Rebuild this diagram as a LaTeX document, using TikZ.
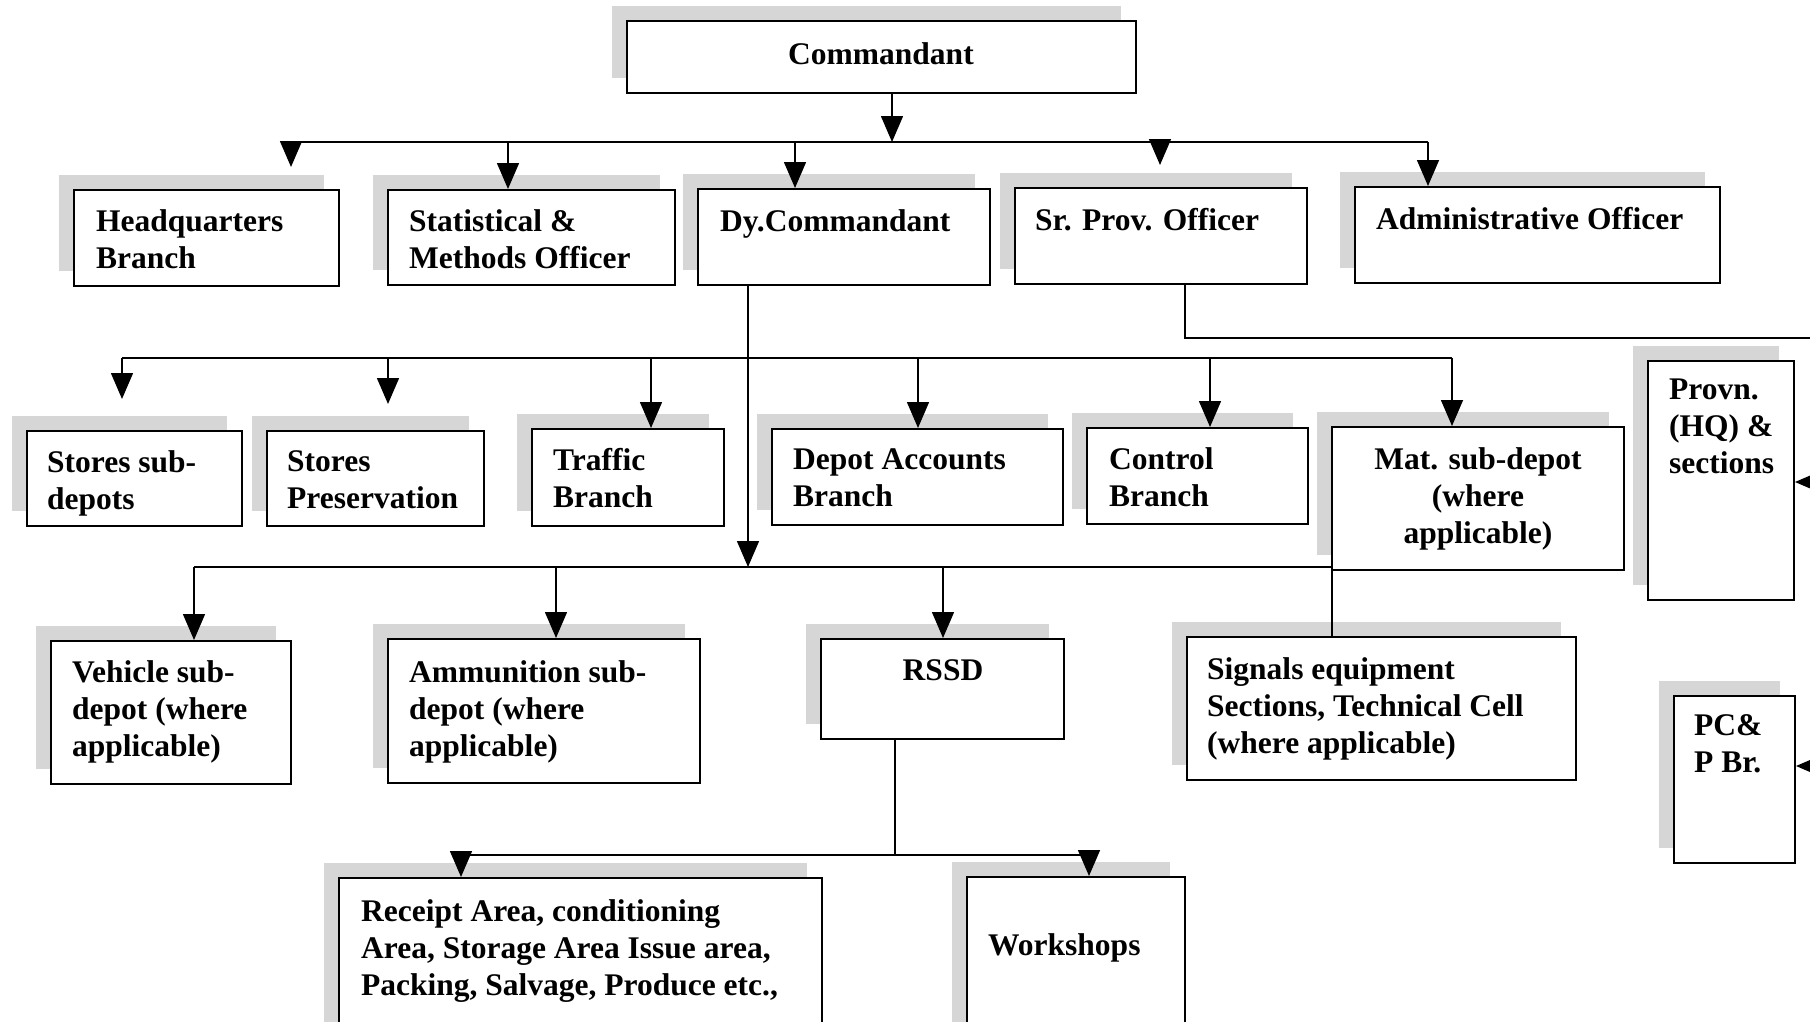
\documentclass[tikz,border=0pt]{standalone}
\usepackage{fontspec}
\setmainfont{Liberation Serif}
\usetikzlibrary{arrows.meta,shadows}
\begin{document}
\begin{tikzpicture}[x=1pt,y=-1pt,
  box/.style={draw, line width=2pt, fill=white, inner sep=0pt,
    general shadow={fill=black!16, shadow xshift=-15pt, shadow yshift=15pt}},
  txt/.style={font=\fontsize{31.5}{37}\selectfont\bfseries, inner sep=0pt, align=left, anchor=north west},
  ctxt/.style={txt, align=center, anchor=north},
  conn/.style={line width=1.5pt},
  bus/.style={line width=2.5pt},
  arr/.style={line width=1.5pt, -{Triangle[length=26pt,width=22pt]}}]
\clip (0,0) rectangle (1810,1021);
\useasboundingbox (0,0) rectangle (1810,1021);
\fill[white] (0,0) rectangle (1810,1021);

% boxes
\node[box, minimum width=509, minimum height=72] (cmd) at (881.5,57) {};
\node[box, minimum width=265, minimum height=96] (hq) at (206.5,238) {};
\node[box, minimum width=287, minimum height=95] (stat) at (531.5,237.5) {};
\node[box, minimum width=292, minimum height=96] (dy) at (844,237) {};
\node[box, minimum width=292, minimum height=96] (srp) at (1161,236) {};
\node[box, minimum width=365, minimum height=96] (adm) at (1537.5,235) {};
\node[box, minimum width=215, minimum height=95] (ssd) at (134.5,478.5) {};
\node[box, minimum width=217, minimum height=95] (spr) at (375.5,478.5) {};
\node[box, minimum width=192, minimum height=97] (trf) at (628,477.5) {};
\node[box, minimum width=291, minimum height=96] (dab) at (917.5,477) {};
\node[box, minimum width=221, minimum height=96] (ctl) at (1197.5,476) {};
\node[box, minimum width=292, minimum height=143] (mat) at (1478,498.5) {};
\node[box, minimum width=146, minimum height=239] (prv) at (1721,480.5) {};
\node[box, minimum width=121, minimum height=167] (pcp) at (1734.5,779.5) {};
\node[box, minimum width=240, minimum height=143] (veh) at (171,712.5) {};
\node[box, minimum width=312, minimum height=144] (amm) at (544,711) {};
\node[box, minimum width=243, minimum height=100] (rssd) at (942.5,689) {};
\node[box, minimum width=389, minimum height=143] (sig) at (1381.5,708.5) {};
\node[box, minimum width=483, minimum height=202] (rcp) at (580.5,979) {};
\node[box, minimum width=218, minimum height=203] (wks) at (1076,978.5) {};

% texts
\node[ctxt] (tcmd) at (881,42) {Commandant};
\node[txt] (thq) at (96,209) {Headquarters\\Branch};
\node[txt] (tstat) at (409,209) {Statistical \&\\Methods Officer};
\node[txt] (tdy) at (720,209) {Dy.Commandant};
\node[txt] (tsrp) at (1035,208) {Sr. Prov. Officer};
\node[txt] (tadm) at (1376,207) {Administrative Officer};
\node[txt] (tssd) at (47,450) {Stores sub-\\depots};
\node[txt] (tspr) at (287,450) {Stores\\Preservation};
\node[txt] (ttrf) at (553,448) {Traffic\\Branch};
\node[txt] (tdab) at (793,448) {Depot Accounts\\Branch};
\node[txt] (tctl) at (1109,447) {Control\\Branch};
\node[ctxt] (tmat) at (1478,447) {Mat. sub-depot\\(where\\applicable)};
\node[txt] (tprv) at (1669,379) {Provn.\\(HQ) \&\\sections};
\node[txt] (tpcp) at (1694,714) {PC\&\\P Br.};
\node[txt] (tveh) at (72,660) {Vehicle sub-\\depot (where\\applicable)};
\node[txt] (tamm) at (409,660) {Ammunition sub-\\depot (where\\applicable)};
\node[ctxt] (trssd) at (943,659) {RSSD};
\node[txt] (tsig) at (1207,657) {Signals equipment\\Sections, Technical Cell\\(where applicable)};
\node[txt] (trcp) at (361,899) {Receipt Area, conditioning\\Area, Storage Area Issue area,\\Packing, Salvage, Produce etc.,};
\node[txt] (twks) at (988,933) {Workshops};

% level 1
\coordinate (b1) at (892,142);
\coordinate (b1l) at (291,142);
\coordinate (b1r) at (1428,142);
\draw[arr] (cmd.south -| b1) -- (b1);
\draw[bus] (b1l) -- (b1r);
\draw[arr] (b1l) -- ++(0,25);
\coordinate (d12) at (508,142);
\draw[arr] (d12) -- (d12 |- stat.north);
\coordinate (d13) at (795,142);
\draw[arr] (d13) -- (d13 |- dy.north);
\coordinate (d14) at (1160,142);
\draw[arr] (d14) -- ++(0,23);
\draw[arr] (b1r) -- (b1r |- adm.north);

% Sr Prov line
\coordinate (s1) at (1185,338);
\coordinate (s2) at (1812,338);
\draw[conn] (srp.south -| s1) -- (s1) -- (s2);
\coordinate (e1) at (1812,482);
\coordinate (e2) at (1812,766);
\draw[conn] (s2) -- (e2);
\draw[arr] (e1) -- (prv.east |- e1);
\draw[arr] (e2) -- (pcp.east |- e2);

% level 2
\coordinate (b2l) at (122,358);
\coordinate (b2r) at (1452,358);
\draw[bus] (b2l) -- (b2r);
\draw[arr] (b2l) -- ++(0,41);
\coordinate (d22) at (388,358);
\draw[arr] (d22) -- ++(0,46);
\coordinate (d23) at (651,358);
\draw[arr] (d23) -- (d23 |- trf.north);
\coordinate (d24) at (918,358);
\draw[arr] (d24) -- (d24 |- dab.north);
\coordinate (d25) at (1210,358);
\draw[arr] (d25) -- (d25 |- ctl.north);
\draw[arr] (b2r) -- (b2r |- mat.north);

% Dy.Commandant stem
\coordinate (b3) at (748,567);
\draw[arr] (dy.south -| b3) -- (b3);

% level 3
\coordinate (b3l) at (194,567);
\coordinate (b3r) at (1332,567);
\draw[bus] (b3l) -- (b3r);
\draw[conn] (b3r) -- (b3r |- sig.north);
\draw[arr] (b3l) -- (b3l |- veh.north);
\coordinate (d32) at (556,567);
\draw[arr] (d32) -- (d32 |- amm.north);
\coordinate (d33) at (943,567);
\draw[arr] (d33) -- (d33 |- rssd.north);

% level 4
\coordinate (b4) at (895,855);
\coordinate (b4l) at (461,855);
\coordinate (b4r) at (1089,855);
\draw[conn] (rssd.south -| b4) -- (b4);
\draw[bus] (b4l) -- (b4r);
\draw[arr] (b4l) -- (b4l |- rcp.north);
\draw[arr] (b4r) -- (b4r |- wks.north);
\end{tikzpicture}
\end{document}
